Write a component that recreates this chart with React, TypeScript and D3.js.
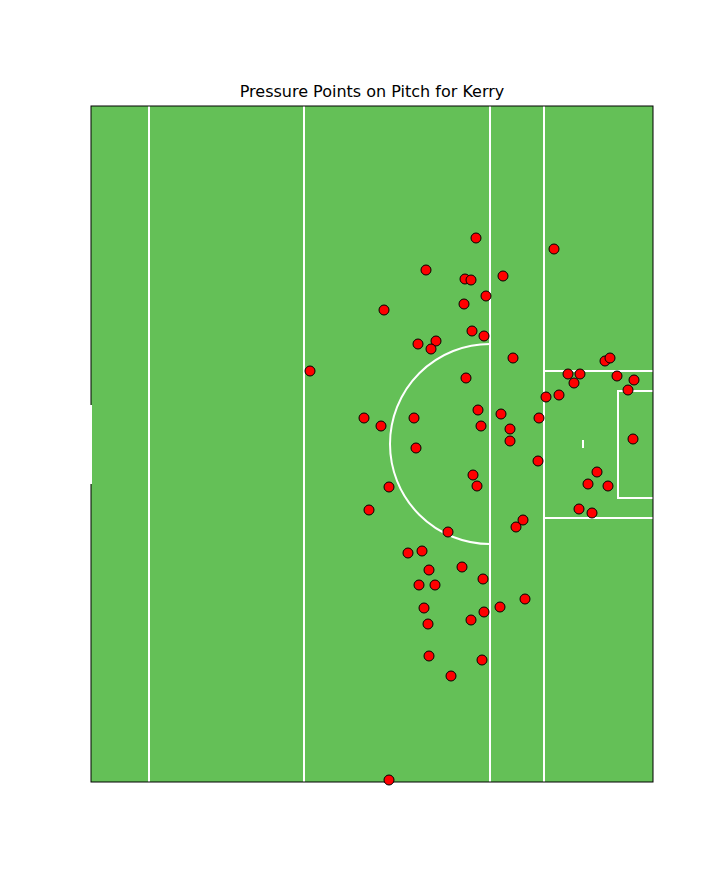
import * as d3 from "d3";

// pitch units (one unit per pixel of the original plot area), origin top-left
const PITCH_W = 562;
const PITCH_H = 676;
const lineXs = [58, 213, 399, 453];
const bigBox = { x0: 453, y0: 265, y1: 412 };
const smallBox = { x0: 527, y0: 285, y1: 392 };
const arc = { cx: 399, cy: 338, r: 100 };
const spot = { x: 492, y: 338 };
const goalGap = [299, 378];

const pointsX = [385, 463, 335, 374, 380, 412, 395, 373, 293, 381, 393, 327, 345, 340, 422, 219, 375, 514, 519, 477, 489, 526, 543, 483, 537, 455, 468, 387, 410, 273, 323, 290, 390, 419, 448, 419, 325, 542, 447, 506, 382, 386, 497, 517, 298, 278, 488, 501, 432, 425, 357, 317, 331, 338, 371, 392, 328, 344, 434, 333, 409, 393, 380, 337, 338, 391, 360, 298];
const pointsY = [132, 143, 164, 173, 174, 170, 190, 198, 204, 225, 230, 238, 235, 243, 252, 265, 272, 255, 252, 268, 268, 270, 274, 277, 284, 291, 289, 304, 308, 312, 312, 320, 320, 323, 312, 335, 342, 333, 355, 366, 369, 380, 378, 380, 381, 404, 403, 407, 414, 421, 426, 447, 445, 464, 461, 473, 479, 479, 493, 502, 501, 506, 514, 518, 550, 554, 570, 674];

const MARGIN = { top: 106, left: 91 };
const PLOT_W = 562;
const PLOT_H = 676;

export default function App() {
  const x = d3.scaleLinear().domain([0, PITCH_W]).range([0, PLOT_W]);
  const y = d3.scaleLinear().domain([0, PITCH_H]).range([0, PLOT_H]);
  const arcPath = d3.arc()({
    innerRadius: x(arc.r) - x(0),
    outerRadius: x(arc.r) - x(0),
    startAngle: Math.PI,
    endAngle: 2 * Math.PI,
  }) as string;
  const white = { stroke: "#ffffff", strokeWidth: 2, fill: "none" };

  return (
    <div style={{ position: "absolute", left: 0, top: 0 }}>
      <svg width={725} height={880} style={{ display: "block" }}>
        <text x={MARGIN.left + PLOT_W / 2} y={97} textAnchor="middle" fontFamily="DejaVu Sans" fontSize={16}>
          Pressure Points on Pitch for Kerry
        </text>
        <g transform={`translate(${MARGIN.left},${MARGIN.top})`}>
          <rect x={0} y={0} width={PLOT_W} height={PLOT_H} fill="#64c057" />
          {lineXs.map((lx, i) => (
            <line key={i} x1={x(lx)} x2={x(lx)} y1={0} y2={PLOT_H} {...white} />
          ))}
          <path d={`M${x(bigBox.x0)},${y(bigBox.y0)}H${PLOT_W}M${x(bigBox.x0)},${y(bigBox.y1)}H${PLOT_W}`} {...white} />
          <path d={`M${PLOT_W},${y(smallBox.y0)}H${x(smallBox.x0)}V${y(smallBox.y1)}H${PLOT_W}`} {...white} />
          <path d={arcPath} transform={`translate(${x(arc.cx)},${y(arc.cy)})`} {...white} fill="none" />
          <line x1={x(spot.x)} x2={x(spot.x)} y1={y(spot.y) - 4} y2={y(spot.y) + 4} {...white} />
          <rect x={0} y={0} width={PLOT_W} height={PLOT_H} fill="none" stroke="#000" strokeWidth={1} />
          <line x1={0} x2={0} y1={y(goalGap[0])} y2={y(goalGap[1])} stroke="#fff" strokeWidth={2} />
          <line x1={0} x2={0} y1={0} y2={0} />
          {pointsX.map((px, i) => (
            <circle key={i} cx={x(px)} cy={y(pointsY[i])} r={5} fill="#ff0000" stroke="#000" strokeWidth={1} />
          ))}
        </g>
      </svg>
    </div>
  );
}
